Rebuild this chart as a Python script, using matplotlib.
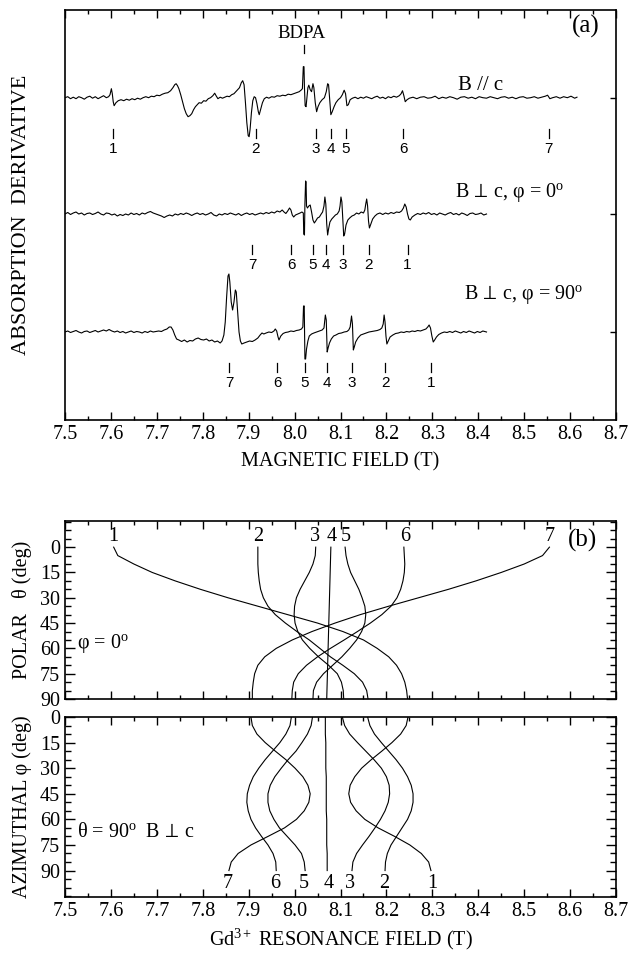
import matplotlib
matplotlib.use('Agg')
import matplotlib.pyplot as plt
from matplotlib.ticker import MultipleLocator, NullFormatter, FormatStrFormatter

plt.rcParams['font.family'] = ['Liberation Serif', 'DejaVu Serif']
plt.rcParams['mathtext.fontset'] = 'custom'
plt.rcParams['mathtext.rm'] = 'Liberation Serif'
plt.rcParams['mathtext.it'] = 'Liberation Serif:italic'
plt.rcParams['mathtext.fallback'] = 'stix'

# ---------------- DATA ----------------
# (a) EPR spectra: (field T, signal in arbitrary units)
spec_parallel = [
    (7.500, 0), (7.506, 1), (7.512, -1), (7.518, 0.5), (7.524, -1), (7.530, 1), (7.536, 0), (7.542, -1.5),
    (7.548, 0.5), (7.554, 1.5), (7.560, -0.5), (7.566, 1), (7.572, -1), (7.578, 0.5), (7.584, 2), (7.590, 0),
    (7.595, 1), (7.598, 3), (7.601, 9), (7.603, 4), (7.605, -4), (7.607, -8), (7.611, -5), (7.616, -3),
    (7.622, -2), (7.628, -3), (7.634, -1.5), (7.640, -2.5), (7.646, -1), (7.652, -2), (7.658, -0.5), (7.664, -1.5),
    (7.670, 0), (7.676, 1), (7.682, 0), (7.688, 1.5), (7.694, 1), (7.700, 2.5), (7.706, 2), (7.712, 3.5),
    (7.718, 4.5), (7.724, 5), (7.730, 7), (7.735, 10), (7.739, 13), (7.742, 14), (7.745, 12), (7.748, 9),
    (7.752, 3), (7.756, -4), (7.760, -11), (7.764, -16), (7.768, -19), (7.772, -18), (7.776, -16), (7.780, -12),
    (7.784, -9), (7.788, -7), (7.792, -5), (7.797, -5.5), (7.802, -3), (7.807, -3.5), (7.812, -1), (7.817, 0),
    (7.822, 2), (7.826, 4.5), (7.829, 2), (7.833, -1), (7.838, 0.5), (7.843, -0.5), (7.848, 0.5), (7.853, 1.5),
    (7.858, 1), (7.863, 3), (7.868, 4), (7.872, 6), (7.876, 8), (7.880, 10), (7.884, 15), (7.887, 17),
    (7.890, 13), (7.893, -5), (7.896, -25), (7.899, -38), (7.901, -39), (7.903, -32), (7.906, -15), (7.909, -3),
    (7.912, 1), (7.915, 0), (7.918, -6), (7.921, -14), (7.923, -17), (7.926, -12), (7.930, -5), (7.934, -1),
    (7.939, 0.5), (7.944, -0.5), (7.950, 1), (7.956, 0.5), (7.962, 2), (7.968, 1.5), (7.974, 2.5), (7.980, 2),
    (7.986, 3.5), (7.992, 3), (7.998, 4), (8.004, 5), (8.010, 6), (8.014, 7.5), (8.017, 9), (8.019, 31),
    (8.0205, 31), (8.0215, 10), (8.023, -8), (8.025, -9), (8.027, 0), (8.029, 10), (8.031, 12.5), (8.034, 8),
    (8.037, 6), (8.040, 14), (8.042, 10), (8.045, -5), (8.048, -14), (8.051, -9), (8.055, -5), (8.060, -2),
    (8.065, 0), (8.069, 6), (8.072, 14), (8.074, 13), (8.077, -5), (8.079, -17), (8.082, -14), (8.086, -9),
    (8.090, -5), (8.095, -2), (8.100, 0), (8.104, 3), (8.108, 7.5), (8.111, 4), (8.114, -8), (8.117, -7),
    (8.121, -2), (8.126, -0.5), (8.132, 0.5), (8.138, -1), (8.144, 0.5), (8.150, -0.5), (8.156, 1), (8.162, 0),
    (8.168, -1), (8.174, 0.5), (8.180, 1.5), (8.186, -0.5), (8.192, 0.5), (8.198, -1), (8.204, 1), (8.210, 0),
    (8.216, 1.5), (8.222, 0.5), (8.228, 2), (8.232, 4), (8.235, 7), (8.238, 2), (8.241, -4), (8.245, -2),
    (8.250, -0.5), (8.258, 0.5), (8.266, -1), (8.274, 0.5), (8.282, 1), (8.290, -0.5), (8.298, 0), (8.306, 1.5),
    (8.314, -1), (8.322, 0.5), (8.330, -0.5), (8.338, 1), (8.346, 0), (8.354, -1.5), (8.362, 0.5), (8.370, 1),
    (8.378, -0.5), (8.386, 0.5), (8.394, -1), (8.402, 1), (8.410, 0), (8.418, -0.5), (8.426, 1), (8.434, 0),
    (8.442, -1), (8.450, 0.5), (8.458, 1), (8.466, -0.5), (8.474, 0.5), (8.482, -1), (8.490, 0.5), (8.498, 1),
    (8.506, -0.5), (8.514, 0), (8.522, 1), (8.530, -0.5), (8.538, 0.5), (8.546, 1.5), (8.551, 2.5), (8.556, -1),
    (8.562, 0), (8.570, 1), (8.578, -0.5), (8.586, 1), (8.594, 0), (8.602, 1.5), (8.610, -0.5), (8.615, 0.5),
]

spec_perp0 = [
    (7.500, 0), (7.506, 1.5), (7.512, -0.5), (7.518, 1), (7.524, 2), (7.530, 0), (7.536, 1), (7.542, -1),
    (7.548, 0.5), (7.554, 1), (7.560, -0.5), (7.566, 0.5), (7.572, 2), (7.578, 0), (7.584, -1), (7.590, 1),
    (7.596, 0.5), (7.602, -1), (7.608, 0), (7.614, -2), (7.620, -0.5), (7.626, -1.5), (7.632, 0), (7.638, -1),
    (7.644, 1), (7.650, -0.5), (7.656, 0.5), (7.662, -1), (7.668, 1), (7.674, 0), (7.680, 1.5), (7.686, 2.5),
    (7.692, 1), (7.698, 0), (7.704, -1), (7.710, -2), (7.716, -3.5), (7.722, -2), (7.728, -1), (7.734, -2),
    (7.740, 0), (7.746, -1), (7.752, 0.5), (7.758, -0.5), (7.764, 1), (7.770, 0), (7.776, -1.5), (7.782, 0),
    (7.788, 1), (7.794, -0.5), (7.800, 0.5), (7.806, -1), (7.812, 0), (7.818, 1.5), (7.824, -1), (7.830, -2),
    (7.836, 0), (7.842, -1), (7.848, 0.5), (7.854, -0.5), (7.860, 1), (7.866, 0), (7.872, -1), (7.878, 0.5),
    (7.884, -1.5), (7.890, 0), (7.896, 1), (7.902, -0.5), (7.908, 0.5), (7.914, -1), (7.920, 0), (7.926, 1),
    (7.932, 0), (7.938, 1.5), (7.944, 0.5), (7.950, 2), (7.956, 1), (7.962, 3), (7.968, 2), (7.973, 4),
    (7.977, 2), (7.981, 0.5), (7.985, 3), (7.989, 6), (7.992, 4), (7.995, -1), (7.998, -3), (8.002, -1),
    (8.007, 0), (8.012, 1), (8.016, 2), (8.019, 1), (8.020, -20), (8.0215, -21), (8.0225, 10), (8.024, 33),
    (8.025, 32), (8.026, 8), (8.028, 6), (8.031, 8), (8.034, 9), (8.037, 2), (8.040, -6), (8.043, -9),
    (8.046, -7), (8.050, -4), (8.054, -3), (8.058, 0), (8.061, 2), (8.064, 8), (8.066, 17), (8.068, 10),
    (8.070, -10), (8.072, -21), (8.074, -15), (8.077, -8), (8.081, -5), (8.085, -3), (8.089, -1), (8.093, 0),
    (8.097, 3), (8.099, 8), (8.101, 17), (8.103, 12), (8.105, -5), (8.107, -22), (8.109, -20), (8.112, -11),
    (8.116, -6), (8.120, -4), (8.125, -2), (8.130, -1), (8.135, 1), (8.140, 0), (8.145, 2), (8.150, 1),
    (8.153, 4), (8.155, 10), (8.157, 15), (8.159, 8), (8.161, -7), (8.163, -14), (8.166, -10), (8.170, -5),
    (8.175, -2), (8.180, 0), (8.186, 1), (8.192, -0.5), (8.198, 1), (8.204, 0), (8.210, 1.5), (8.216, 0.5),
    (8.222, 2), (8.228, 1.5), (8.233, 3), (8.237, 6), (8.240, 10), (8.243, 7), (8.246, 0), (8.249, -5),
    (8.252, -6), (8.256, -3), (8.262, -1), (8.268, 0.5), (8.274, -0.5), (8.280, 1), (8.286, 0), (8.292, 1.5),
    (8.298, -0.5), (8.304, 0.5), (8.310, -1), (8.316, 1), (8.322, 0), (8.328, -1), (8.334, 0.5), (8.340, 1.5),
    (8.346, -0.5), (8.352, 0.5), (8.358, -1), (8.364, 1), (8.370, 0), (8.376, -1.5), (8.382, 0.5), (8.388, 1),
    (8.394, -0.5), (8.400, 0), (8.406, 1), (8.412, -1), (8.418, 0),
]

spec_perp90 = [
    (7.500, 0), (7.506, 1), (7.512, -0.5), (7.518, 0.5), (7.524, 1.5), (7.530, 0), (7.536, -1), (7.542, 0.5),
    (7.548, 1), (7.554, -0.5), (7.560, 0.5), (7.566, 1.5), (7.572, 0), (7.578, 1), (7.584, 2), (7.590, 1),
    (7.596, 2.5), (7.602, 1), (7.608, 0), (7.614, 1), (7.620, -0.5), (7.626, 0.5), (7.632, -1), (7.638, 0),
    (7.644, 1), (7.650, -0.5), (7.656, 0.5), (7.662, 0), (7.668, -1), (7.674, 0.5), (7.680, -0.5), (7.686, 1),
    (7.692, 0), (7.698, 0.5), (7.704, 1), (7.710, 0.5), (7.716, 2), (7.722, 3), (7.727, 5), (7.731, 5),
    (7.735, 2), (7.739, -3), (7.743, -7), (7.748, -8), (7.754, -9.5), (7.760, -8), (7.766, -10), (7.772, -8.5),
    (7.778, -9), (7.784, -7), (7.790, -6), (7.796, -7.5), (7.802, -8), (7.808, -7), (7.814, -9), (7.820, -8),
    (7.826, -10), (7.832, -9), (7.838, -11), (7.842, -9), (7.846, -3), (7.849, 10), (7.852, 35), (7.855, 56),
    (7.857, 58), (7.859, 50), (7.862, 30), (7.865, 22), (7.868, 30), (7.871, 42), (7.873, 40), (7.876, 20),
    (7.879, 0), (7.882, -9), (7.885, -12), (7.890, -11), (7.896, -10), (7.902, -9), (7.908, -9.5), (7.914, -8),
    (7.920, -6), (7.925, -3), (7.929, -1), (7.933, -2), (7.938, -1), (7.944, 0), (7.950, -0.5), (7.955, 1),
    (7.958, 3), (7.961, 1), (7.964, -5), (7.966, -8), (7.970, -4), (7.975, -1.5), (7.980, -0.5), (7.986, 0),
    (7.992, 1), (7.998, 0.5), (8.004, 1.5), (8.010, 2), (8.015, 3), (8.018, 5), (8.0195, 26), (8.021, 26),
    (8.0225, -27), (8.024, -27), (8.026, -17), (8.029, -9), (8.032, -4), (8.037, -2), (8.042, -1), (8.048, 0),
    (8.054, 1), (8.060, 2), (8.064, 4), (8.067, 17), (8.069, 12), (8.071, -20), (8.073, -16), (8.076, -11),
    (8.080, -7), (8.085, -4), (8.090, -3), (8.096, -1.5), (8.102, -1), (8.108, 0), (8.114, 0.5), (8.118, 2),
    (8.121, 5), (8.124, 16), (8.126, 8), (8.128, -18), (8.130, -15), (8.133, -10), (8.138, -6), (8.144, -3),
    (8.150, -2), (8.156, -1), (8.162, 0), (8.168, 0.5), (8.174, 1), (8.180, 1.5), (8.186, 2.5), (8.190, 4),
    (8.193, 8), (8.195, 17), (8.197, 10), (8.199, -4), (8.201, -12), (8.204, -9), (8.208, -5), (8.214, -3),
    (8.220, -1.5), (8.226, -1), (8.232, 0), (8.238, -0.5), (8.244, 0.5), (8.250, 0), (8.256, 1), (8.262, 0.5),
    (8.268, 1.5), (8.274, 1), (8.280, 2), (8.286, 3), (8.290, 5), (8.293, 7), (8.296, 4), (8.299, -4),
    (8.302, -10), (8.305, -8), (8.309, -5), (8.314, -2.5), (8.320, -1), (8.326, 0), (8.332, -0.5), (8.338, 0.5),
    (8.344, -0.5), (8.350, 1), (8.356, 0), (8.362, -1), (8.368, 0.5), (8.374, -0.5), (8.380, 1), (8.386, 0),
    (8.392, -1), (8.398, 0.5), (8.404, -0.5), (8.410, 1), (8.418, 0),
]

# line markers (field positions) with their numbers
marks_parallel = [7.605, 7.915, 8.047, 8.079, 8.112, 8.237, 8.553]
labels_parallel = ['1', '2', '3', '4', '5', '6', '7']
marks_perp0 = [7.908, 7.993, 8.040, 8.069, 8.105, 8.162, 8.246]
labels_perp0 = ['7', '6', '5', '4', '3', '2', '1']
marks_perp90 = [7.858, 7.962, 8.022, 8.071, 8.124, 8.197, 8.298]
labels_perp90 = ['7', '6', '5', '4', '3', '2', '1']
bdpa_field = 8.020

# (b) resonance fields vs angle (T)
angles = [0, 5, 10, 15, 20, 25, 30, 35, 40, 45, 50, 55, 60, 65, 70, 75, 80, 85, 90]
polar_fields = {
    '1': [7.606, 7.615, 7.650, 7.690, 7.740, 7.795, 7.855, 7.920, 7.985, 8.050, 8.105, 8.150, 8.180, 8.205, 8.222, 8.233, 8.240, 8.244, 8.246],
    '2': [7.920, 7.920, 7.920, 7.921, 7.923, 7.926, 7.932, 7.942, 7.958, 7.980, 8.005, 8.032, 8.055, 8.078, 8.105, 8.130, 8.148, 8.157, 8.160],
    '3': [8.046, 8.045, 8.040, 8.032, 8.022, 8.012, 8.004, 8.000, 7.999, 8.001, 8.007, 8.017, 8.033, 8.052, 8.074, 8.093, 8.102, 8.106, 8.107],
    '4': [8.079, 8.0785, 8.078, 8.0775, 8.077, 8.0765, 8.076, 8.0755, 8.075, 8.0745, 8.074, 8.0735, 8.073, 8.0725, 8.072, 8.0715, 8.071, 8.0705, 8.070],
    '5': [8.110, 8.112, 8.116, 8.122, 8.131, 8.140, 8.147, 8.153, 8.155, 8.153, 8.146, 8.135, 8.120, 8.103, 8.083, 8.063, 8.048, 8.041, 8.040],
    '6': [8.238, 8.239, 8.240, 8.239, 8.236, 8.231, 8.223, 8.210, 8.190, 8.165, 8.137, 8.108, 8.078, 8.050, 8.026, 8.008, 7.998, 7.995, 7.994],
    '7': [8.555, 8.540, 8.500, 8.450, 8.395, 8.335, 8.270, 8.205, 8.143, 8.088, 8.038, 7.995, 7.960, 7.935, 7.920, 7.913, 7.910, 7.908, 7.908],
}
azimuthal_fields = {
    '1': [8.247, 8.243, 8.231, 8.212, 8.190, 8.167, 8.146, 8.131, 8.121, 8.118, 8.122, 8.134, 8.153, 8.182, 8.218, 8.251, 8.276, 8.292, 8.297],
    '2': [8.159, 8.164, 8.174, 8.189, 8.205, 8.221, 8.235, 8.246, 8.254, 8.258, 8.258, 8.254, 8.246, 8.234, 8.222, 8.210, 8.202, 8.198, 8.197],
    '3': [8.104, 8.109, 8.120, 8.137, 8.155, 8.173, 8.189, 8.200, 8.206, 8.207, 8.204, 8.197, 8.187, 8.175, 8.162, 8.148, 8.135, 8.127, 8.125],
    '4': [8.067, 8.067, 8.067, 8.068, 8.068, 8.068, 8.068, 8.069, 8.069, 8.069, 8.069, 8.069, 8.070, 8.070, 8.070, 8.070, 8.071, 8.071, 8.071],
    '5': [8.039, 8.036, 8.028, 8.016, 8.003, 7.986, 7.971, 7.957, 7.947, 7.942, 7.942, 7.946, 7.955, 7.967, 7.984, 8.001, 8.015, 8.021, 8.023],
    '6': [7.993, 7.990, 7.981, 7.968, 7.952, 7.936, 7.922, 7.910, 7.902, 7.897, 7.896, 7.899, 7.905, 7.915, 7.928, 7.942, 7.953, 7.959, 7.960],
    '7': [7.905, 7.908, 7.918, 7.936, 7.958, 7.981, 8.001, 8.018, 8.029, 8.034, 8.031, 8.021, 8.004, 7.978, 7.942, 7.905, 7.877, 7.862, 7.857],
}
polar_label_fields = {'1': 7.606, '2': 7.920, '3': 8.044, '4': 8.081, '5': 8.111, '6': 8.241, '7': 8.555}
azim_label_fields = {'7': 7.855, '6': 7.957, '5': 8.021, '4': 8.074, '3': 8.121, '2': 8.195, '1': 8.299}

# ---------------- FIGURE ----------------
W, H = 639, 958
fig = plt.figure(figsize=(W / 100, H / 100), dpi=100)


def rect(l, t, r, b):
    return [l / W, 1 - b / H, (r - l) / W, (b - t) / H]


axa = fig.add_axes(rect(65, 10, 616, 420))
axu = fig.add_axes(rect(65, 521, 616, 699))
axl = fig.add_axes(rect(65, 717, 616, 897))

LW = 0.8
TICKFS = 14.5
SANS = ['Liberation Sans', 'DejaVu Sans']
PERP = r'$\!\perp\!$'

for ax in (axa, axu, axl):
    ax.set_xlim(7.5, 8.7)
    for s in ax.spines.values():
        s.set_linewidth(1.2)
    ax.xaxis.set_major_locator(MultipleLocator(0.1))
    ax.xaxis.set_minor_locator(MultipleLocator(0.05))
    ax.tick_params(axis='x', which='both', direction='in', top=True, bottom=True,
                   labelsize=TICKFS, width=1.0)
    ax.tick_params(axis='x', which='major', length=6)
    ax.tick_params(axis='x', which='minor', length=3)

# ---- panel (a) ----
axa.set_ylim(0, 410)
baselines = [322.3, 206, 88]
spectra = [spec_parallel, spec_perp0, spec_perp90]
marks = [marks_parallel, marks_perp0, marks_perp90]
labs = [labels_parallel, labels_perp0, labels_perp90]
for base, spec, mk, lb in zip(baselines, spectra, marks, labs):
    xs = [p[0] for p in spec]
    ys = [base + p[1] for p in spec]
    axa.plot(xs, ys, color='black', lw=LW)
    for f, t in zip(mk, lb):
        axa.plot([f, f], [base - 40, base - 31], color='black', lw=0.9)
        axa.text(f, base - 51, t, ha='center', va='center', fontsize=11, family=SANS)

axa.plot([bdpa_field, bdpa_field], [367, 375], color='black', lw=0.9)
axa.text(bdpa_field - 0.004, 387, 'BDPA', ha='center', va='center', fontsize=13.5)
axa.text(8.355, 335, 'B // c', ha='left', va='center', fontsize=15)
axa.text(8.35, 227, 'B ' + PERP + ' c, φ = 0$^{\\rm o}$', ha='left', va='center', fontsize=14.5)
axa.text(8.37, 125, 'B ' + PERP + ' c, φ = 90$^{\\rm o}$', ha='left', va='center', fontsize=14.5)
axa.text(8.634, 394, '(a)', ha='center', va='center', fontsize=18)

axa.yaxis.set_ticks_position('right')
axa.set_yticks(baselines)
axa.tick_params(axis='y', which='major', direction='in', length=4, labelright=False, width=1.0)
axa.xaxis.set_major_formatter(FormatStrFormatter('%.1f'))
axa.set_xlabel('MAGNETIC FIELD (T)', fontsize=14.5, labelpad=6)
fig.text(22 / W, 1 - 215 / H, 'ABSORPTION  DERIVATIVE', rotation=90, ha='center', va='center', fontsize=16)

# ---- panel (b) upper: polar ----
axu.set_ylim(90, -15.5)
for k, vals in polar_fields.items():
    axu.plot(vals, angles, color='black', lw=LW)
    axu.text(polar_label_fields[k], -6.5, k, ha='center', va='center', fontsize=14.5)
axu.text(8.628, -4, '(b)', ha='center', va='center', fontsize=18)
axu.text(7.527, 57, 'φ = 0$^{\\rm o}$', ha='left', va='center', fontsize=14.5)
axu.set_yticks([0, 15, 30, 45, 60, 75, 90])
axu.yaxis.set_minor_locator(MultipleLocator(5))
axu.tick_params(axis='y', which='both', direction='in', left=True, right=True, labelsize=TICKFS, width=1.0)
axu.tick_params(axis='y', which='major', length=7)
axu.tick_params(axis='y', which='minor', length=4)
axu.xaxis.set_major_formatter(NullFormatter())
fig.text(22 / W, 1 - 610 / H, 'POLAR   θ (deg)', rotation=90, ha='center', va='center', fontsize=14.5)

# ---- panel (b) lower: azimuthal ----
axl.set_ylim(105.5, 0)
for k, vals in azimuthal_fields.items():
    axl.plot(vals, angles, color='black', lw=LW)
    axl.text(azim_label_fields[k], 97.8, k, ha='center', va='center', fontsize=14.5)
axl.text(7.527, 67.5, 'θ = 90$^{\\rm o}$  B ' + PERP + ' c', ha='left', va='center', fontsize=14.5)
axl.set_yticks([0, 15, 30, 45, 60, 75, 90])
axl.yaxis.set_minor_locator(MultipleLocator(5))
axl.tick_params(axis='y', which='both', direction='in', left=True, right=True, labelsize=TICKFS, width=1.0)
axl.tick_params(axis='y', which='major', length=7)
axl.tick_params(axis='y', which='minor', length=4)
axl.xaxis.set_major_formatter(FormatStrFormatter('%.1f'))
axl.set_xlabel('Gd$^{3+}$ RESONANCE FIELD (T)', fontsize=14.5, labelpad=4)
fig.text(22 / W, 1 - 807 / H, 'AZIMUTHAL φ (deg)', rotation=90, ha='center', va='center', fontsize=14.5)

fig.savefig('out.png', dpi=100)
